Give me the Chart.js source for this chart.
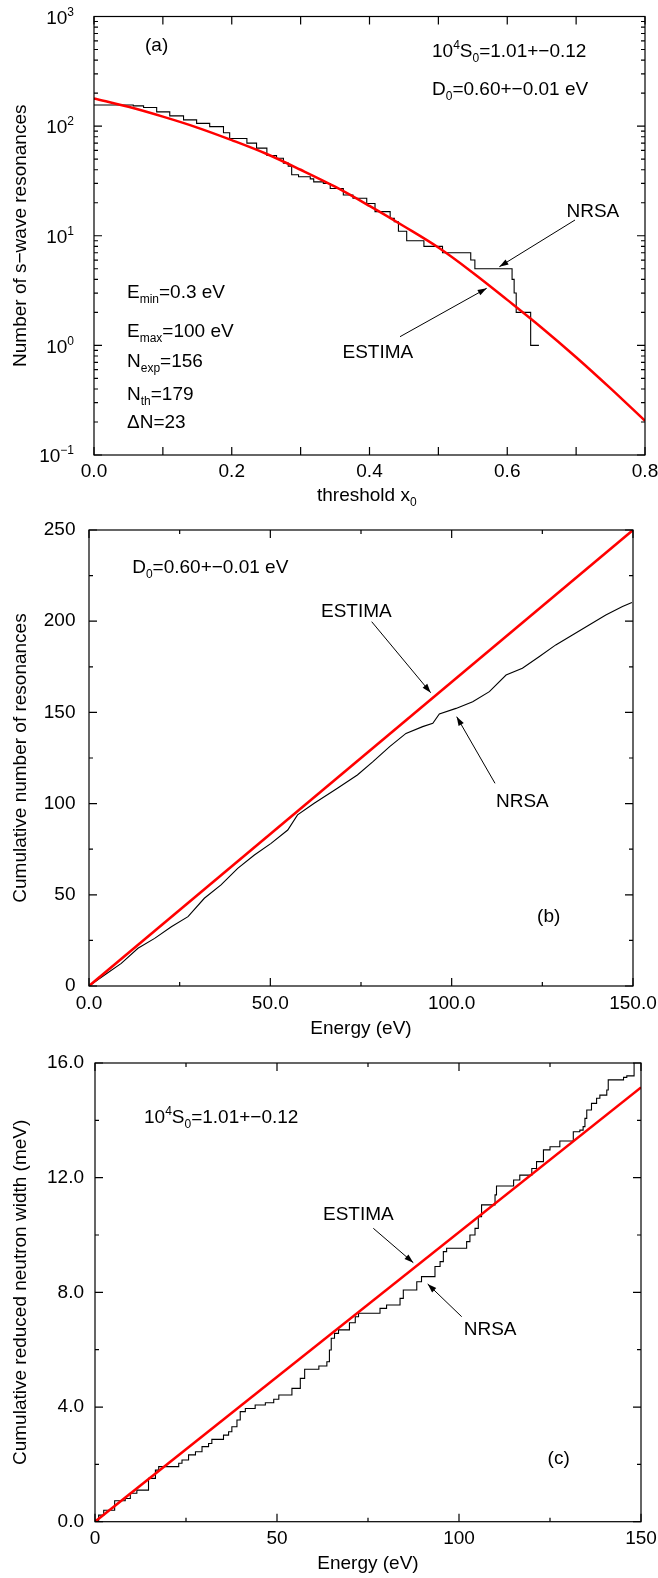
<!DOCTYPE html>
<html>
<head>
<meta charset="utf-8">
<title>ESTIMA / NRSA</title>
<script src="https://cdn.jsdelivr.net/npm/chart.js@4.4.3/dist/chart.umd.min.js"></script>
<style>
  html, body { margin: 0; padding: 0; background: #fff; }
  body { width: 658px; height: 1578px; position: relative; overflow: hidden; }
  canvas { position: absolute; left: 0; }
</style>
</head>
<body>
<canvas id="ca" width="658" height="515" style="top:0"></canvas>
<canvas id="cb" width="658" height="535" style="top:515px"></canvas>
<canvas id="cc" width="658" height="528" style="top:1050px"></canvas>
<script>
// (a) number of s-wave resonances above threshold x0
const thrX = [0, 0.05, 0.1, 0.15, 0.2, 0.25, 0.3, 0.35, 0.4, 0.45, 0.5, 0.55, 0.6, 0.65, 0.7, 0.75, 0.8];
const thrEstima = [179, 150, 122, 97, 74.5, 56, 40, 28, 18.7, 12.2, 7.8, 4.6, 2.6, 1.45, 0.78, 0.405, 0.205];
const thrNrsaX = [0, 0.057, 0.072, 0.091, 0.110, 0.130, 0.149, 0.168, 0.188, 0.197, 0.222, 0.236, 0.251,
  0.265, 0.275, 0.282, 0.287, 0.297, 0.314, 0.319, 0.333, 0.343, 0.362, 0.376, 0.396, 0.408, 0.430,
  0.436, 0.442, 0.454, 0.479, 0.506, 0.547, 0.553, 0.607, 0.610, 0.613, 0.634, 0.646];
const thrNrsaN = [156, 153, 148, 135, 124, 114, 106, 99, 87, 77, 70, 63, 54,
  51, 46, 43, 36, 34.5, 33, 31, 30, 27, 23.5, 22, 19.7, 16.6, 14.4,
  13.4, 11, 9, 8, 7, 6, 5, 4, 3, 2, 1, 1];
const thrTickMarks = [0, 0.1, 0.2, 0.3, 0.4, 0.5, 0.6, 0.7, 0.8];
const decades = [0.1, 1, 10, 100, 1000];
const decadeMinor = [0.2, 0.3, 0.4, 0.5, 0.6, 0.7, 0.8, 0.9, 2, 3, 4, 5, 6, 7, 8, 9,
  20, 30, 40, 50, 60, 70, 80, 90, 200, 300, 400, 500, 600, 700, 800, 900];

// (b) cumulative number of resonances vs energy
const enEstimaX = [0, 150];
const enEstimaN = [0, 250];
const enNrsaX = [0, 4.3, 8.9, 13.5, 18.1, 22.7, 27.3, 31.8, 36.4, 41.0, 45.6, 50.2, 54.8, 57.5, 62.1,
  68.5, 74.0, 78.3, 82.9, 87.4, 92.0, 94.8, 96.6, 101.2, 105.8, 110.4, 115.0, 119.5, 124.1, 128.7,
  133.3, 137.9, 142.5, 147.1, 149.7];
const enNrsaN = [0, 6, 12.4, 20.7, 26.1, 32.5, 38, 48.1, 55.4, 64.5, 71.8, 78.2, 85.5, 93.8, 100.2,
  108.4, 115.7, 123, 131.2, 138.5, 142.2, 144, 149.1, 152.2, 155.9, 161.4, 170.5, 174.2, 180.5, 187,
  192.4, 197.9, 203.4, 208, 210.2];

// (c) cumulative reduced neutron width (meV) vs energy
const gamEstimaX = [0, 150];
const gamEstima = [0, 15.15];
const gamNrsaX = [0, 1.0, 2.4, 5.4, 8.3, 9.7, 11.5, 14.7, 16.6, 17.5, 23.0, 23.9, 25.7, 27.6, 29.4,
  31.2, 32.1, 35.3, 36.7, 37.6, 39.0, 39.9, 41.3, 44.0, 46.8, 49.1, 50.5, 54.1, 56.4, 57.6, 61.5,
  63.7, 64.4, 64.9, 65.8, 66.9, 69.9, 71.5, 72.4, 78.3, 80.1, 83.8, 84.7, 88.4, 89.7, 93.4, 94.8,
  95.7, 96.6, 102.1, 103.0, 104.4, 105.3, 106.2, 109.9, 110.3, 115.0, 116.7, 120.0, 121.3, 123.2,
  125.0, 127.7, 131.4, 133.2, 134.1, 134.6, 135.1, 136.4, 137.8, 138.7, 140.6, 141.0, 145.2, 146.1, 148.1];
const gamNrsa = [0, 0.23, 0.40, 0.73, 0.81, 0.99, 1.10, 1.51, 1.80, 1.92, 2.04, 2.15, 2.33, 2.44, 2.62,
  2.73, 2.87, 3.02, 3.14, 3.31, 3.55, 3.84, 3.95, 4.07, 4.15, 4.27, 4.42, 4.65, 5.0, 5.32, 5.43,
  5.58, 5.99, 6.4, 6.57, 6.69, 6.94, 7.15, 7.27, 7.44, 7.56, 7.79, 8.08, 8.37, 8.55, 8.9, 9.07,
  9.42, 9.54, 9.77, 10.0, 10.23, 10.64, 11.05, 11.4, 11.71, 11.92, 12.09, 12.32, 12.56, 12.97,
  13.08, 13.28, 13.6, 13.66, 13.78, 14.07, 14.36, 14.59, 14.77, 14.88, 15.06, 15.41, 15.5, 15.55, 16.3];

const FONT = '"Liberation Sans", Arial, Helvetica, sans-serif';
Chart.defaults.font.family = FONT;
Chart.defaults.font.size = 19;
Chart.defaults.color = '#000';

const RED = '#ff0000';
const pts = (xs, ys) => xs.map((x, i) => ({ x, y: ys[i] }));

// force the axis box so the plot frame lands where the original has it
function fixBox(size, key) {
  return (scale) => {
    scale[key] = size;
    scale.paddingLeft = scale.paddingRight = scale.paddingTop = scale.paddingBottom = 0;
  };
}

// text with gnuplot-like sub/superscripts: [text, 0 normal | -1 sub | 1 sup]
function richWidth(ctx, parts) {
  let w = 0;
  for (const [s, k] of parts) {
    ctx.font = (k ? 12 : 19) + 'px ' + FONT;
    w += ctx.measureText(s).width;
  }
  return w;
}
function drawRich(ctx, x, y, parts) {
  for (const [s, k] of parts) {
    ctx.font = (k ? 12 : 19) + 'px ' + FONT;
    ctx.fillText(s, x, y + (k < 0 ? 5 : k > 0 ? -8 : 0));
    x += ctx.measureText(s).width;
  }
}
function arrow(ctx, x1, y1, x2, y2) {
  ctx.beginPath();
  ctx.moveTo(x1, y1);
  ctx.lineTo(x2, y2);
  ctx.stroke();
  const a = Math.atan2(y2 - y1, x2 - x1), L = 9, W = 3;
  const c = Math.cos(a), s = Math.sin(a);
  ctx.beginPath();
  ctx.moveTo(x2, y2);
  ctx.lineTo(x2 - L * c + W * s, y2 - L * s - W * c);
  ctx.lineTo(x2 - L * c - W * s, y2 - L * s + W * c);
  ctx.closePath();
  ctx.fill();
}

// frame, inward ticks on all sides, annotations
function decor(cfg) {
  return {
    id: 'decor',
    afterDatasetsDraw(chart) {
      const { ctx, chartArea: a, scales: { x, y } } = chart;
      ctx.save();
      ctx.strokeStyle = '#000';
      ctx.fillStyle = '#000';
      ctx.lineWidth = 1.2;
      ctx.strokeRect(a.left, a.top, a.right - a.left, a.bottom - a.top);
      ctx.beginPath();
      const xm = (vals, len) => vals.forEach((v) => {
        const p = x.getPixelForValue(v);
        ctx.moveTo(p, a.bottom); ctx.lineTo(p, a.bottom - len);
        ctx.moveTo(p, a.top); ctx.lineTo(p, a.top + len);
      });
      const ym = (vals, len) => vals.forEach((v) => {
        const p = y.getPixelForValue(v);
        ctx.moveTo(a.left, p); ctx.lineTo(a.left + len, p);
        ctx.moveTo(a.right, p); ctx.lineTo(a.right - len, p);
      });
      xm(cfg.xMajor, 8); xm(cfg.xMinor, 4);
      ym(cfg.yMajor, 8); ym(cfg.yMinor, 4);
      ctx.stroke();

      ctx.textAlign = 'left';
      ctx.textBaseline = 'alphabetic';
      if (cfg.logLabels) {
        for (const v of cfg.logLabels) {
          const e = Math.round(Math.log10(v));
          const parts = [['10', 0], [String(e).replace('-', '\u2212'), 1]];
          const w = richWidth(ctx, parts);
          drawRich(ctx, a.left - 20 - w, y.getPixelForValue(v) + 7.3, parts);
        }
      }
      for (const n of cfg.notes) drawRich(ctx, n.x, n.y, n.t);
      ctx.lineWidth = 1;
      for (const ar of cfg.arrows) arrow(ctx, ...ar);
      ctx.restore();
    }
  };
}

function lineSet(data, color, width, extra) {
  return Object.assign({
    data, borderColor: color, borderWidth: width, pointRadius: 0, fill: false
  }, extra);
}

function makeChart(id, o) {
  return new Chart(document.getElementById(id), {
    type: 'line',
    data: { datasets: o.datasets },
    options: {
      responsive: false,
      animation: false,
      events: [],
      devicePixelRatio: 1,
      layout: { padding: o.padding },
      plugins: { legend: { display: false }, tooltip: { enabled: false } },
      scales: { x: o.x, y: o.y }
    },
    plugins: [decor(o.decor)]
  });
}

const noGrid = { display: false, drawTicks: false };
const noBorder = { display: false };
const MINUS = '\u2212';

// ---------- (a) ----------
makeChart('ca', {
  padding: { top: 16.5, right: 13, left: 0, bottom: 0 },
  datasets: [
    lineSet(pts(thrX, thrEstima), RED, 2.5, { tension: 0.35 }),
    lineSet(pts(thrNrsaX, thrNrsaN), '#000', 1.1, { stepped: 'before' })
  ],
  x: {
    type: 'linear', min: 0, max: 0.8,
    grid: noGrid, border: noBorder,
    ticks: { stepSize: 0.2, padding: 5, autoSkip: false, maxRotation: 0, callback: (v) => v.toFixed(1) },
    afterFit: fixBox(60, 'height')
  },
  y: {
    type: 'logarithmic', min: 0.1, max: 1000,
    grid: noGrid, border: noBorder,
    ticks: { display: false },
    title: { display: true, text: 'Number of s' + MINUS + 'wave resonances', padding: { top: 9.6, bottom: 0 } },
    afterFit: fixBox(94, 'width')
  },
  decor: {
    xMajor: thrTickMarks, xMinor: [],
    yMajor: decades, yMinor: decadeMinor,
    logLabels: decades,
    notes: [
      { x: 145, y: 51, t: [['(a)', 0]] },
      { x: 432, y: 56.7, t: [['10', 0], ['4', 1], ['S', 0], ['0', -1], ['=1.01+' + MINUS + '0.12', 0]] },
      { x: 432, y: 95, t: [['D', 0], ['0', -1], ['=0.60+' + MINUS + '0.01 eV', 0]] },
      { x: 566.5, y: 216.7, t: [['NRSA', 0]] },
      { x: 342.5, y: 358, t: [['ESTIMA', 0]] },
      { x: 127, y: 298, t: [['E', 0], ['min', -1], ['=0.3 eV', 0]] },
      { x: 127, y: 336.7, t: [['E', 0], ['max', -1], ['=100 eV', 0]] },
      { x: 127, y: 366.7, t: [['N', 0], ['exp', -1], ['=156', 0]] },
      { x: 127, y: 400, t: [['N', 0], ['th', -1], ['=179', 0]] },
      { x: 127, y: 428.3, t: [['\u0394N=23', 0]] },
      { x: 317, y: 501, t: [['threshold x', 0], ['0', -1]] }
    ],
    arrows: [[575, 220, 499.4, 266.7], [400, 336.7, 486.7, 288.3]]
  }
});

// ---------- (b) ----------
makeChart('cb', {
  padding: { top: 15, right: 25, left: 0, bottom: 0 },
  datasets: [
    lineSet(pts(enEstimaX, enEstimaN), RED, 2.5),
    lineSet(pts(enNrsaX, enNrsaN), '#000', 1.1)
  ],
  x: {
    type: 'linear', min: 0, max: 150,
    grid: noGrid, border: noBorder,
    ticks: { stepSize: 50, padding: 6.7, autoSkip: false, maxRotation: 0, callback: (v) => v.toFixed(1) },
    title: { display: true, text: 'Energy (eV)', padding: { top: 0, bottom: 9.6 } },
    afterFit: fixBox(64, 'height')
  },
  y: {
    type: 'linear', min: 0, max: 250,
    grid: noGrid, border: noBorder,
    ticks: { stepSize: 50, padding: 13.5 },
    title: { display: true, text: 'Cumulative number of resonances', padding: { top: 9.2, bottom: 0 } },
    afterFit: fixBox(89, 'width')
  },
  decor: {
    xMajor: [0, 50, 100, 150], xMinor: [25, 75, 125],
    yMajor: [0, 50, 100, 150, 200, 250], yMinor: [25, 75, 125, 175, 225],
    notes: [
      { x: 132.2, y: 58.3, t: [['D', 0], ['0', -1], ['=0.60+' + MINUS + '0.01 eV', 0]] },
      { x: 321, y: 102.3, t: [['ESTIMA', 0]] },
      { x: 496, y: 291.7, t: [['NRSA', 0]] },
      { x: 537.1, y: 406.5, t: [['(b)', 0]] }
    ],
    arrows: [[371.7, 106.7, 430.7, 177.7], [495, 268.3, 456.7, 201.7]]
  }
});

// ---------- (c) ----------
makeChart('cc', {
  padding: { top: 13, right: 17, left: 0, bottom: 0 },
  datasets: [
    lineSet(pts(gamEstimaX, gamEstima), RED, 2.5),
    lineSet(pts(gamNrsaX, gamNrsa), '#000', 1.1, { stepped: 'before' })
  ],
  x: {
    type: 'linear', min: 0, max: 150,
    grid: noGrid, border: noBorder,
    ticks: { stepSize: 50, padding: 5.3, autoSkip: false, maxRotation: 0 },
    title: { display: true, text: 'Energy (eV)', padding: { top: 0, bottom: 3.2 } },
    afterFit: fixBox(56.3, 'height')
  },
  y: {
    type: 'linear', min: 0, max: 16,
    grid: noGrid, border: noBorder,
    ticks: { stepSize: 4, padding: 11, callback: (v) => v.toFixed(1) },
    title: { display: true, text: 'Cumulative reduced neutron width (meV)', padding: { top: 9.6, bottom: 0 } },
    afterFit: fixBox(95, 'width')
  },
  decor: {
    xMajor: [0, 50, 100, 150], xMinor: [25, 75, 125],
    yMajor: [0, 4, 8, 12, 16], yMinor: [2, 6, 10, 14],
    notes: [
      { x: 144, y: 73.3, t: [['10', 0], ['4', 1], ['S', 0], ['0', -1], ['=1.01+' + MINUS + '0.12', 0]] },
      { x: 323, y: 170, t: [['ESTIMA', 0]] },
      { x: 463.7, y: 285, t: [['NRSA', 0]] },
      { x: 547.6, y: 413.5, t: [['(c)', 0]] }
    ],
    arrows: [[373.3, 178.3, 413.3, 212.7], [461.7, 266.7, 427.7, 234]]
  }
});
</script>
</body>
</html>
